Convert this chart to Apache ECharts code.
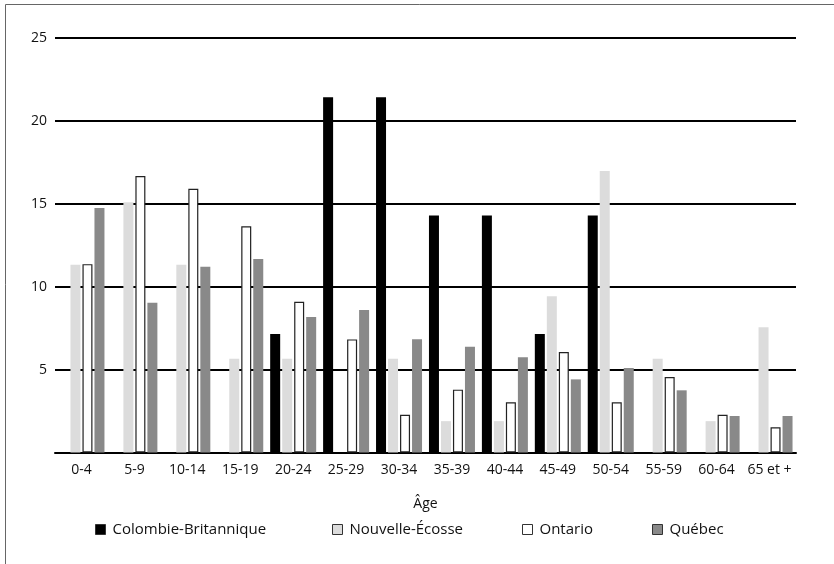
<!DOCTYPE html>
<html>
<head>
<meta charset="utf-8">
<script src="https://cdn.jsdelivr.net/npm/echarts@6/dist/echarts.min.js"></script>
<style>
html,body{margin:0;padding:0;background:#fff;}
#chart{width:834px;height:564px;}
</style>
</head>
<body>
<div id="chart"></div>
<script>
const categories = ['0-4','5-9','10-14','15-19','20-24','25-29','30-34','35-39','40-44','45-49','50-54','55-59','60-64','65 et +'];
const colombieBritannique = [null,null,null,null,7.14,21.43,21.43,14.29,14.29,7.14,14.29,null,null,null];
const nouvelleEcosse = [11.32,15.09,11.32,5.66,5.66,null,5.66,1.89,1.89,9.43,16.98,5.66,1.89,7.55];
const ontario = [11.36,16.67,15.91,13.64,9.09,6.82,2.27,3.79,3.03,6.06,3.03,4.55,2.27,1.52];
const quebec = [14.75,9.03,11.2,11.67,8.17,8.6,6.83,6.38,5.74,4.41,5.1,3.75,2.2,2.2];
const seriesNames = ['Colombie-Britannique','Nouvelle-Écosse','Ontario','Québec'];
const yTicks = [0,5,10,15,20,25];

const FONT = 'Open Sans';
const chart = echarts.init(document.getElementById('chart'));
const legendBase = {
  top: 517, itemWidth: 10, itemHeight: 10, itemGap: 0,
  textStyle: {fontFamily: FONT, fontSize: 15, color: '#111', padding:[0,0,0,2]},
  icon: 'rect',
  itemStyle: {borderColor: '#333', borderWidth: 1}
};
chart.setOption({
  animation: false,
  backgroundColor: '#fff',
  textStyle: {fontFamily: FONT},
  grid: {left: 55, right: 38, top: 38, bottom: 111.5, containLabel: false},
  legend: [
    Object.assign({}, legendBase, {left: 90, data: [seriesNames[0]]}),
    Object.assign({}, legendBase, {left: 327, data: [seriesNames[1]]}),
    Object.assign({}, legendBase, {left: 517, data: [seriesNames[2]]}),
    Object.assign({}, legendBase, {left: 647, data: [seriesNames[3]]})
  ],
  xAxis: {
    type: 'category',
    data: categories,
    name: 'Âge',
    nameLocation: 'middle',
    nameGap: 45,
    nameTextStyle: {fontFamily: FONT, fontSize: 14, color: '#111'},
    axisLine: {lineStyle: {color: '#000', width: 2}},
    axisTick: {show: false},
    axisLabel: {fontFamily: FONT, fontSize: 14, color: '#111', margin: 11, interval: 0}
  },
  yAxis: {
    type: 'value',
    min: yTicks[0], max: yTicks[yTicks.length-1], interval: 5,
    axisLine: {show: false},
    axisTick: {show: false},
    axisLabel: {fontFamily: FONT, fontSize: 14, color: '#111', margin: 8,
      formatter: v => v === 0 ? '' : String(v)},
    splitLine: {lineStyle: {color: '#000', width: 2}}
  },
  series: [
    {name: seriesNames[0], type: 'bar', data: colombieBritannique, barWidth: 10, barGap: '20%',
     itemStyle: {color: '#000', borderWidth: 0}},
    {name: seriesNames[1], type: 'bar', data: nouvelleEcosse, barWidth: 10, barGap: '20%',
     itemStyle: {color: '#dcdcdc', borderWidth: 0}},
    {name: seriesNames[2], type: 'bar', data: ontario, barWidth: 10, barGap: '20%',
     itemStyle: {color: '#fff', borderColor: '#222', borderWidth: 1.2}},
    {name: seriesNames[3], type: 'bar', data: quebec, barWidth: 10, barGap: '20%',
     itemStyle: {color: '#898989', borderWidth: 0}}
  ],
  graphic: [
    {type: 'line', shape: {x1: 5.5, y1: 4.5, x2: 834, y2: 4.5}, style: {stroke: '#666', lineWidth: 1}, silent: true},
    {type: 'line', shape: {x1: 5.5, y1: 4.5, x2: 5.5, y2: 564}, style: {stroke: '#666', lineWidth: 1}, silent: true}
  ]
});
</script>
</body>
</html>
